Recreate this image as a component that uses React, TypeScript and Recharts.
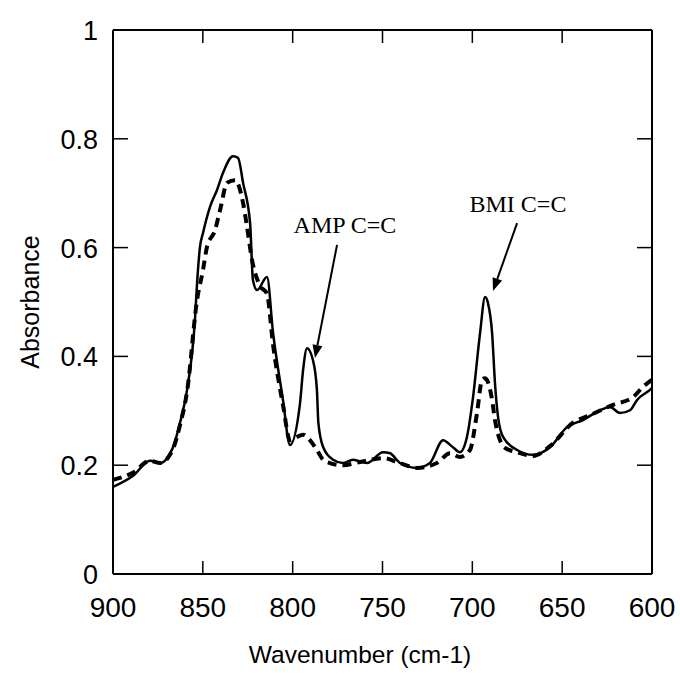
import React from 'react';
import { LineChart, Line, XAxis, YAxis, ReferenceLine, ReferenceDot, Label } from 'recharts';

// Solid spectrum
const solidWavenumber = [900, 889, 879.4, 873.8, 866.6, 862.7, 858.8, 854.4, 853.2, 851.6, 849.9, 846, 842.1, 838.8, 833.2, 830.4, 827.6, 823.7, 822.1, 819.8, 814.3, 810.9, 805.4, 801.5, 795.9, 794.2, 792.0, 788.7, 786.5, 785.7, 783.0, 777.5, 772.0, 766.4, 758.6, 749.7, 745.8, 740.3, 730.8, 723.6, 716.3, 710.8, 706.9, 703.0, 699.6, 695.7, 692.9, 691.3, 689.0, 687.4, 685.7, 682.9, 675.1, 666.2, 656.8, 647.3, 638.4, 628.9, 623.4, 617.8, 612.2, 608.3, 601.3, 600];
const solidAbsorbance = [0.160, 0.180, 0.208, 0.204, 0.233, 0.278, 0.338, 0.467, 0.535, 0.601, 0.627, 0.675, 0.706, 0.737, 0.768, 0.765, 0.719, 0.645, 0.540, 0.522, 0.546, 0.443, 0.320, 0.237, 0.314, 0.375, 0.415, 0.393, 0.338, 0.278, 0.233, 0.210, 0.204, 0.210, 0.204, 0.224, 0.222, 0.204, 0.195, 0.204, 0.246, 0.233, 0.224, 0.252, 0.325, 0.443, 0.509, 0.498, 0.443, 0.351, 0.289, 0.252, 0.228, 0.219, 0.233, 0.270, 0.283, 0.301, 0.307, 0.296, 0.301, 0.320, 0.338, 0.342];

// Dashed spectrum
const dashedWavenumber = [900, 889, 879.4, 873.8, 866.6, 862.7, 858.8, 853.2, 849.9, 847.7, 843.2, 840.4, 836.5, 832.1, 827.6, 825.4, 822.6, 818.2, 814.3, 810.9, 805.4, 801.5, 797.6, 794.2, 790.4, 786.5, 783.1, 779.2, 772.0, 762.5, 749.7, 740.3, 730.8, 719.7, 712.4, 706.9, 701.3, 697.4, 694.6, 692.9, 689.0, 687.4, 684.6, 681.8, 675.1, 666.2, 656.8, 644.0, 634.5, 621.7, 610.6, 605.0, 600];
const dashedAbsorbance = [0.173, 0.186, 0.208, 0.204, 0.230, 0.274, 0.335, 0.504, 0.559, 0.601, 0.632, 0.669, 0.719, 0.724, 0.682, 0.638, 0.577, 0.530, 0.515, 0.421, 0.311, 0.246, 0.252, 0.256, 0.246, 0.228, 0.210, 0.204, 0.200, 0.206, 0.213, 0.204, 0.195, 0.204, 0.222, 0.215, 0.228, 0.296, 0.357, 0.360, 0.320, 0.283, 0.246, 0.232, 0.224, 0.217, 0.235, 0.278, 0.292, 0.311, 0.325, 0.344, 0.357];

const xTicks = [900, 850, 800, 750, 700, 650, 600];
const yTicks = [0, 0.2, 0.4, 0.6, 0.8, 1];

const ampLabel = 'AMP C=C';
const bmiLabel = 'BMI C=C';
const ampText = { x: 770.9, y: 0.627 };
const ampArrow = [{ x: 775.3, y: 0.605 }, { x: 787.6, y: 0.397 }];
const bmiText = { x: 674.6, y: 0.665 };
const bmiArrow = [{ x: 675.1, y: 0.645 }, { x: 688.5, y: 0.52 }];

const solidData = solidWavenumber.map((w, i) => ({ w, a: solidAbsorbance[i] }));
const dashedData = dashedWavenumber.map((w, i) => ({ w, a: dashedAbsorbance[i] }));

const SANS = '"Liberation Sans", Arial, Helvetica, sans-serif';
const SERIF = '"Liberation Serif", "Times New Roman", serif';

const BottomTick = (p: any) => {
  const v = p.payload.value;
  const inner = v !== 900 && v !== 600;
  return (
    <g>
      {inner && <line x1={p.x} x2={p.x} y1={p.y} y2={p.y - 13} stroke="#000" strokeWidth={1.5} />}
      <text x={p.x} y={p.y + 43} textAnchor="middle" fontFamily={SANS} fontSize={28} fill="#000">{v}</text>
    </g>
  );
};

const TopTick = (p: any) => {
  const v = p.payload.value;
  const inner = v !== 900 && v !== 600;
  return inner ? <line x1={p.x} x2={p.x} y1={p.y} y2={p.y + 13} stroke="#000" strokeWidth={1.5} /> : <g />;
};

const LeftTick = (p: any) => {
  const v = p.payload.value;
  const inner = v !== 0 && v !== 1;
  return (
    <g>
      {inner && <line x1={p.x} x2={p.x + 15} y1={p.y} y2={p.y} stroke="#000" strokeWidth={1.5} />}
      <text x={p.x - 15} y={p.y + 10} textAnchor="end" fontFamily={SANS} fontSize={27} fill="#000">{String(v)}</text>
    </g>
  );
};

const RightTick = (p: any) => {
  const v = p.payload.value;
  const inner = v !== 0 && v !== 1;
  return inner ? <line x1={p.x} x2={p.x - 15} y1={p.y} y2={p.y} stroke="#000" strokeWidth={1.5} /> : <g />;
};

const Arrow = (p: any) => {
  const { x1, y1, x2, y2 } = p;
  if ([x1, y1, x2, y2].some((v) => typeof v !== 'number' || isNaN(v))) return <g />;
  const dx = x2 - x1;
  const dy = y2 - y1;
  const len = Math.sqrt(dx * dx + dy * dy);
  const ux = dx / len;
  const uy = dy / len;
  const hl = 13;
  const hw = 5;
  const bx = x2 - ux * hl;
  const by = y2 - uy * hl;
  const pts = `${x2},${y2} ${bx - uy * hw},${by + ux * hw} ${bx + uy * hw},${by - ux * hw}`;
  return (
    <g>
      <line x1={x1} y1={y1} x2={bx} y2={by} stroke="#000" strokeWidth={2} />
      <polygon points={pts} fill="#000" />
    </g>
  );
};

const makeTextShape = (label: string) => (p: any) => (
  <text x={p.cx} y={p.cy} textAnchor="middle" fontFamily={SERIF} fontSize={24} fill="#000">{label}</text>
);

const YTitle = (p: any) => {
  const vb = p.viewBox || {};
  const cx = 30;
  const cy = (vb.y ?? 30) + (vb.height ?? 544) / 2;
  return (
    <text x={cx} y={cy} transform={`rotate(-90, ${cx}, ${cy})`} textAnchor="middle" dominantBaseline="central" fontFamily={SANS} fontSize={25} fill="#000">Absorbance</text>
  );
};

const XTitle = (p: any) => {
  const cx = 360;
  const cy = 663;
  return (
    <text x={cx} y={cy} textAnchor="middle" fontFamily={SANS} fontSize={24.5} fill="#000">Wavenumber (cm-1)</text>
  );
};

export default function App() {
  return (
    <div style={{ position: 'absolute', left: 0, top: 0, background: '#fff' }}>
      <LineChart width={680} height={676} margin={{ top: 29, right: 27, bottom: 101, left: 112 }}>
        <XAxis
          xAxisId="bottom"
          dataKey="w"
          type="number"
          domain={[600, 900]}
          reversed
          ticks={xTicks}
          interval={0}
          height={1}
          tickSize={0}
          tickMargin={0}
          tickLine={false}
          axisLine={{ stroke: '#000', strokeWidth: 2 }}
          tick={<BottomTick />}
        >
          <Label content={<XTitle />} />
        </XAxis>
        <XAxis
          xAxisId="top"
          orientation="top"
          dataKey="w"
          type="number"
          domain={[600, 900]}
          reversed
          ticks={xTicks}
          interval={0}
          height={1}
          tickSize={0}
          tickMargin={0}
          tickLine={false}
          axisLine={{ stroke: '#000', strokeWidth: 2 }}
          tick={<TopTick />}
        />
        <YAxis
          yAxisId="left"
          type="number"
          domain={[0, 1]}
          ticks={yTicks}
          interval={0}
          width={1}
          tickSize={0}
          tickMargin={0}
          tickLine={false}
          axisLine={{ stroke: '#000', strokeWidth: 2 }}
          tick={<LeftTick />}
        >
          <Label content={<YTitle />} />
        </YAxis>
        <YAxis
          yAxisId="right"
          orientation="right"
          type="number"
          domain={[0, 1]}
          ticks={yTicks}
          interval={0}
          width={1}
          tickSize={0}
          tickMargin={0}
          tickLine={false}
          axisLine={{ stroke: '#000', strokeWidth: 2 }}
          tick={<RightTick />}
        />
        <Line
          data={dashedData}
          xAxisId="top"
          yAxisId="right"
          dataKey="a"
          type="monotone"
          stroke="#000"
          strokeWidth={4}
          strokeDasharray="9 6"
          dot={false}
          activeDot={false}
          isAnimationActive={false}
        />
        <Line
          data={solidData}
          xAxisId="bottom"
          yAxisId="left"
          dataKey="a"
          type="monotone"
          stroke="#000"
          strokeWidth={2.5}
          dot={false}
          activeDot={false}
          isAnimationActive={false}
        />
        <ReferenceLine xAxisId="bottom" yAxisId="left" segment={ampArrow} shape={Arrow} ifOverflow="visible" />
        <ReferenceLine xAxisId="bottom" yAxisId="left" segment={bmiArrow} shape={Arrow} ifOverflow="visible" />
        <ReferenceDot xAxisId="bottom" yAxisId="left" x={ampText.x} y={ampText.y} r={0} shape={makeTextShape(ampLabel)} ifOverflow="visible" />
        <ReferenceDot xAxisId="bottom" yAxisId="left" x={bmiText.x} y={bmiText.y} r={0} shape={makeTextShape(bmiLabel)} ifOverflow="visible" />
      </LineChart>
    </div>
  );
}
